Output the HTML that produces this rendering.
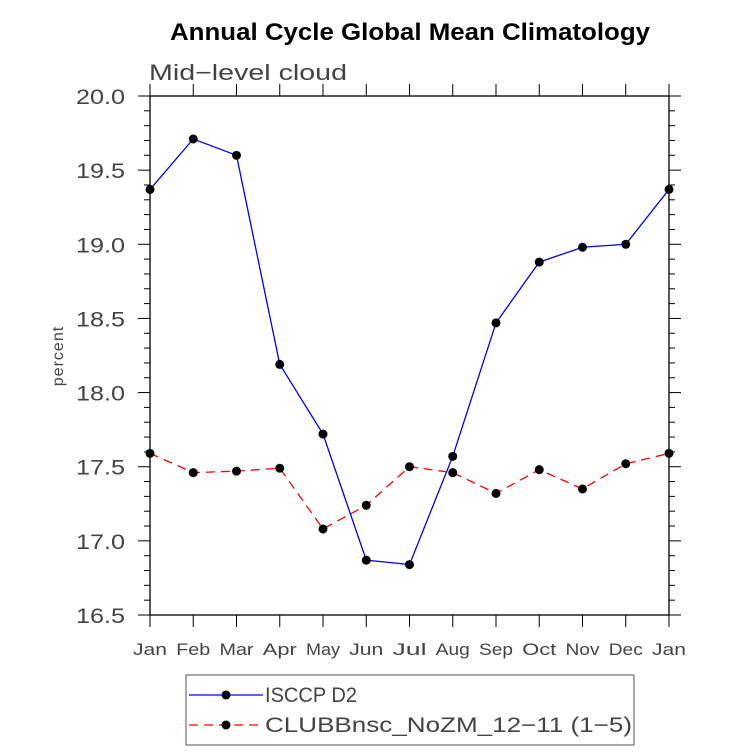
<!DOCTYPE html>
<html><head><meta charset="utf-8"><style>
body{margin:0;background:#fff;width:733px;height:751px;overflow:hidden}
svg text{font-family:"Liberation Sans",sans-serif}
</style></head><body>
<svg id="chart" width="733" height="751" xmlns="http://www.w3.org/2000/svg">
<text x="170" y="40" font-size="24" font-weight="bold" fill="#000" textLength="480" lengthAdjust="spacingAndGlyphs">Annual Cycle Global Mean Climatology</text>
<text x="149" y="80" font-size="22" fill="#444" textLength="198" lengthAdjust="spacingAndGlyphs">Mid−level cloud</text>
<text transform="translate(63,356) rotate(-90)" text-anchor="middle" font-size="16" fill="#444" style="letter-spacing:1px">percent</text>
<g id="axes"></g>
<g id="series"></g>
<g>
<rect x="186" y="675" width="448" height="70" fill="none" stroke="#555" stroke-width="1"/>
<g>
<line x1="189" y1="695" x2="263" y2="695" stroke="#00f" stroke-width="1.3"/>
<circle cx="226" cy="695" r="4.5" fill="#000"/>
<text x="265" y="702" font-size="21" fill="#444" textLength="92" lengthAdjust="spacingAndGlyphs">ISCCP D2</text>
</g>
<g>
<line x1="189" y1="725" x2="263" y2="725" stroke="#f00" stroke-width="1.3" stroke-dasharray="9,6"/>
<circle cx="226" cy="725" r="4.5" fill="#000"/>
<text x="265" y="732" font-size="21" fill="#444" textLength="367" lengthAdjust="spacingAndGlyphs">CLUBBnsc_NoZM_12−11 (1−5)</text>
</g>
</g>
</svg>
<script>
const months=["Jan","Feb","Mar","Apr","May","Jun","Jul","Aug","Sep","Oct","Nov","Dec","Jan"];
const isccp=[19.37,19.71,19.60,18.19,17.72,16.87,16.84,17.57,18.47,18.88,18.98,19.00,19.37];
const clubb=[17.59,17.46,17.47,17.49,17.08,17.24,17.50,17.46,17.32,17.48,17.35,17.52,17.59];
const yTicks=["16.5","17.0","17.5","18.0","18.5","19.0","19.5","20.0"];
const X0=150,X1=669,Y0=96,Y1=615,YMIN=16.5,YMAX=20.0;
const xs=i=>X0+(X1-X0)*i/(months.length-1);
const ys=v=>Y1-(v-YMIN)/(YMAX-YMIN)*(Y1-Y0);
const NS="http://www.w3.org/2000/svg";
function mk(t,a,p){const e=document.createElementNS(NS,t);for(const k in a)e.setAttribute(k,a[k]);p.appendChild(e);return e;}
const ax=document.getElementById("axes");
const box=mk("rect",{x:X0,y:Y0,width:X1-X0,height:Y1-Y0,fill:"none",stroke:"#000","stroke-width":1.3},ax);


months.forEach((m,i)=>{
 const x=xs(i);
 mk("line",{x1:x,y1:Y1,x2:x,y2:Y1+12,stroke:"#000","stroke-width":1},ax);
 mk("line",{x1:x,y1:Y0,x2:x,y2:Y0-12,stroke:"#000","stroke-width":1},ax);
 const t=mk("text",{x:x,y:655,"text-anchor":"middle","font-size":17,fill:"#444",textLength:34,lengthAdjust:"spacingAndGlyphs"},ax);
 t.textContent=m;
 
 
});
for(let k=0;k<=35;k++){
 const v=YMIN+k*0.1,y=ys(v),major=k%5===0,L=major?12:6;
 mk("line",{x1:X0,y1:y,x2:X0-L,y2:y,stroke:"#000","stroke-width":1},ax);
 mk("line",{x1:X1,y1:y,x2:X1+L,y2:y,stroke:"#000","stroke-width":1},ax);
}
yTicks.forEach(s=>{
 const t=mk("text",{x:76,y:ys(parseFloat(s))+8,"font-size":21,fill:"#444",textLength:49,lengthAdjust:"spacingAndGlyphs"},ax);
 t.textContent=s;
 
 
});
const sg=document.getElementById("series");
function draw(vals,color,dash,name){
 const g=mk("g",{},sg);
 
 
 const pts=vals.map((v,i)=>xs(i)+","+ys(v)).join(" ");
 const a={points:pts,fill:"none",stroke:color,"stroke-width":1.3};
 if(dash)a["stroke-dasharray"]=dash;
 mk("polyline",a,g);
 vals.forEach((v,i)=>{
  const c=mk("circle",{cx:xs(i),cy:ys(v),r:4.5,fill:"#000"},g);
  
  
 });
}
draw(clubb,"#f00","9,6","series-clubb");
draw(isccp,"#00f",null,"series-isccp");
</script>
</body></html>
